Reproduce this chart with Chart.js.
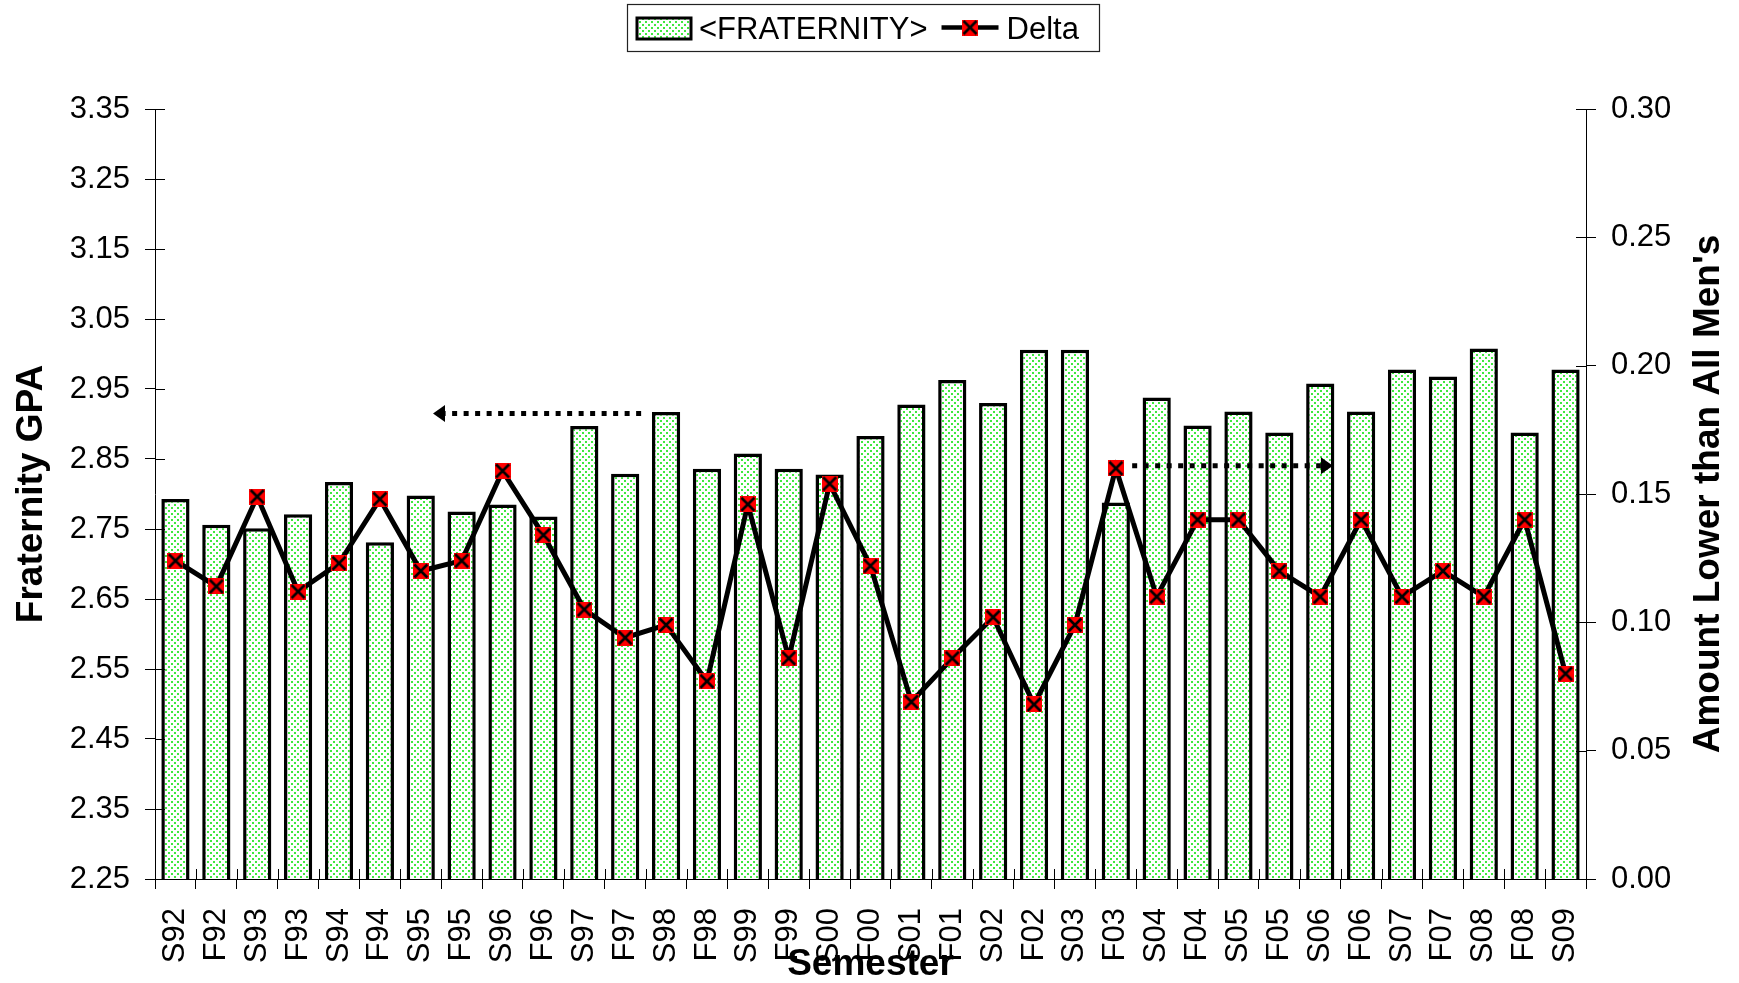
<!DOCTYPE html>
<html>
<head>
<meta charset="utf-8">
<script src="https://cdn.jsdelivr.net/npm/chart.js@4.4.1/dist/chart.umd.min.js"></script>
<style>
html,body{margin:0;padding:0;background:#ffffff;}
#wrap{width:1739px;height:983px;position:relative;}
</style>
</head>
<body>
<div id="wrap"><canvas id="c"></canvas></div>
<script>
// ---------- data ----------
const semesters = ['S92','F92','S93','F93','S94','F94','S95','F95','S96','F96',
  'S97','F97','S98','F98','S99','F99','S00','F00','S01','F01',
  'S02','F02','S03','F03','S04','F04','S05','F05','S06','F06',
  'S07','F07','S08','F08','S09'];
const fraternityGPA = [2.793,2.756,2.751,2.771,2.817,2.731,2.798,2.775,2.785,2.768,
  2.897,2.829,2.917,2.836,2.858,2.836,2.828,2.883,2.928,2.963,
  2.930,3.006,3.006,2.788,2.938,2.898,2.918,2.888,2.958,2.918,
  2.978,2.968,3.008,2.888,2.978];
const deltaValues = [0.124,0.114,0.149,0.112,0.123,0.148,0.120,0.124,0.159,0.134,
  0.105,0.094,0.099,0.077,0.146,0.086,0.154,0.122,0.069,0.086,
  0.102,0.068,0.099,0.160,0.110,0.140,0.140,0.120,0.110,0.140,
  0.110,0.120,0.110,0.140,0.080];
const seriesLabels = ['<FRATERNITY>', 'Delta'];
const leftAxisTitle = 'Fraternity GPA';
const rightAxisTitle = "Amount Lower than All Men's";
const xAxisTitle = 'Semester';
const leftAxisRange = [2.25, 3.35, 0.1];
const rightAxisRange = [0, 0.30, 0.05];
// annotation arrows: value on axis, from category index, to category index (tip)
const leftArrow = {value: 2.915, from: 11.39, to: 6.30};
const rightArrow = {value: 0.161, from: 23.40, to: 28.31};

// ---------- styling helpers ----------
const FONT = "'Liberation Sans', Arial, Helvetica, sans-serif";
const canvas = document.getElementById('c');
const ctx0 = canvas.getContext('2d');

function makePattern(){
  const t = document.createElement('canvas'); t.width = 6; t.height = 6;
  const g = t.getContext('2d');
  g.fillStyle = '#ffffff'; g.fillRect(0,0,6,6);
  g.fillStyle = '#3fe83f';
  g.fillRect(0,0,2,2); g.fillRect(3,3,2,2);
  return ctx0.createPattern(t, 'repeat');
}
function makeMarker(size){
  const c = document.createElement('canvas'); c.width = size; c.height = size;
  const g = c.getContext('2d');
  g.fillStyle = '#ff0000'; g.fillRect(0,0,size,size);
  g.strokeStyle = '#000000'; g.lineWidth = 2.6;
  g.beginPath();
  g.moveTo(1.5,1.5); g.lineTo(size-1.5,size-1.5);
  g.moveTo(size-1.5,1.5); g.lineTo(1.5,size-1.5);
  g.stroke();
  return c;
}
const barPattern = makePattern();
const marker = makeMarker(16);

// ---------- plugins ----------
const innerTicks = {
  id: 'innerTicks',
  afterDraw(chart){
    const ctx = chart.ctx;
    const {x, y, y1} = chart.scales;
    const ca = chart.chartArea;
    ctx.save();
    ctx.strokeStyle = '#000'; ctx.lineWidth = 1;
    ctx.beginPath();
    for (let i = 0; i <= semesters.length; i++){
      const px = Math.round(x.getPixelForValue(i - 0.5)) + 0.5;
      ctx.moveTo(px, ca.bottom); ctx.lineTo(px, ca.bottom - 10);
    }
    y.ticks.forEach((t, i) => {
      const py = Math.round(y.getPixelForTick(i)) + 0.5;
      ctx.moveTo(ca.left, py); ctx.lineTo(ca.left + 10, py);
    });
    y1.ticks.forEach((t, i) => {
      const py = Math.round(y1.getPixelForTick(i)) + 0.5;
      ctx.moveTo(ca.right, py); ctx.lineTo(ca.right - 10, py);
    });
    ctx.stroke();
    ctx.restore();
  }
};

function drawArrow(ctx, x1, x2, yy){
  const dir = Math.sign(x2 - x1);
  const head = 12;
  ctx.save();
  ctx.strokeStyle = '#000'; ctx.lineWidth = 5;
  ctx.setLineDash([5, 6.5]);
  ctx.beginPath(); ctx.moveTo(x1, yy); ctx.lineTo(x2 - dir*head, yy); ctx.stroke();
  ctx.setLineDash([]);
  ctx.fillStyle = '#000';
  ctx.beginPath();
  ctx.moveTo(x2, yy);
  ctx.lineTo(x2 - dir*head, yy - 8.5);
  ctx.lineTo(x2 - dir*head, yy + 8.5);
  ctx.closePath(); ctx.fill();
  ctx.restore();
}
const arrows = {
  id: 'arrows',
  afterDatasetsDraw(chart){
    const {x, y, y1} = chart.scales;
    drawArrow(chart.ctx, x.getPixelForValue(leftArrow.from), x.getPixelForValue(leftArrow.to), y.getPixelForValue(leftArrow.value));
    drawArrow(chart.ctx, x.getPixelForValue(rightArrow.from), x.getPixelForValue(rightArrow.to), y1.getPixelForValue(rightArrow.value));
  }
};

const customLegend = {
  id: 'customLegend',
  afterDraw(chart){
    const ctx = chart.ctx;
    const labels = chart.data.datasets.map(d => d.label);
    ctx.save();
    ctx.font = `31px ${FONT}`;
    ctx.textBaseline = 'middle';
    ctx.fillStyle = '#000';
    const left = 627, top = 4, h = 47, cy = 30;
    let cx = 637;
    // bar sample
    ctx.fillStyle = barPattern; ctx.fillRect(cx, 18, 54, 21);
    ctx.strokeStyle = '#000'; ctx.lineWidth = 3; ctx.strokeRect(cx, 18, 54, 21);
    cx += 54 + 8;
    ctx.fillStyle = '#000';
    ctx.fillText(labels[0], cx, cy);
    cx += ctx.measureText(labels[0]).width + 14;
    // line sample
    ctx.lineWidth = 4.5; ctx.beginPath(); ctx.moveTo(cx, 27.5); ctx.lineTo(cx + 57, 27.5); ctx.stroke();
    ctx.drawImage(marker, cx + 28.5 - marker.width/2, 27.5 - marker.height/2);
    cx += 57 + 8;
    ctx.fillText(labels[1], cx, cy);
    cx += ctx.measureText(labels[1]).width + 12;
    ctx.lineWidth = 1.2; ctx.strokeStyle = '#222';
    ctx.strokeRect(left + 0.5, top + 0.5, Math.max(cx - left, 472), h);
    ctx.restore();
  }
};

const rightTitle = {
  id: 'rightTitle',
  afterDraw(chart){
    const ctx = chart.ctx;
    const ca = chart.chartArea;
    ctx.save();
    ctx.translate(1709, (ca.top + ca.bottom)/2);
    ctx.rotate(-Math.PI/2);
    ctx.font = `bold 37px ${FONT}`;
    ctx.textAlign = 'center'; ctx.textBaseline = 'middle';
    ctx.fillStyle = '#000';
    ctx.fillText(rightAxisTitle, 0, 0);
    ctx.restore();
  }
};

// ---------- chart ----------
const tickFont = {family: FONT, size: 31};
const titleFont = {family: FONT, size: 37, weight: 'bold', lineHeight: 1};

new Chart(canvas, {
  type: 'bar',
  data: {
    labels: semesters,
    datasets: [
      {
        type: 'bar', label: seriesLabels[0], data: fraternityGPA, yAxisID: 'y',
        backgroundColor: barPattern, borderColor: '#000', borderWidth: 3.5,
        barPercentage: 0.69, categoryPercentage: 1.0, order: 1
      },
      {
        type: 'line', label: seriesLabels[1], data: deltaValues, yAxisID: 'y1',
        borderColor: '#000', borderWidth: 5, tension: 0, fill: false,
        pointStyle: marker, pointRadius: 8, pointHoverRadius: 8, order: 0
      }
    ]
  },
  options: {
    responsive: true, maintainAspectRatio: false, animation: false,
    layout: {padding: {top: 109, left: 0, right: 0, bottom: 0}},
    plugins: {legend: {display: false}, tooltip: {enabled: false}, title: {display: false}},
    scales: {
      x: {
        type: 'category', offset: true,
        grid: {display: true, offset: true, drawOnChartArea: false, drawTicks: true, tickLength: 10, color: '#000', lineWidth: 1},
        border: {display: true, color: '#000', width: 1},
        ticks: {autoSkip: false, minRotation: 90, maxRotation: 90, padding: 19, color: '#000', font: tickFont},
        title: {display: true, text: xAxisTitle, color: '#000', font: titleFont, padding: {top: 0, bottom: 0}},
        afterFit(s){ s.height = 104; }
      },
      y: {
        type: 'linear', position: 'left',
        min: leftAxisRange[0], max: leftAxisRange[1],
        grid: {drawOnChartArea: false, drawTicks: true, tickLength: 10, color: '#000', lineWidth: 1},
        border: {display: true, color: '#000', width: 1},
        ticks: {stepSize: leftAxisRange[2], padding: 15, color: '#000', font: tickFont, callback: v => Number(v).toFixed(2)},
        title: {display: true, text: leftAxisTitle, color: '#000', font: titleFont, padding: {top: 13, bottom: 0}},
        afterFit(s){ s.width = 155; }
      },
      y1: {
        type: 'linear', position: 'right',
        min: rightAxisRange[0], max: rightAxisRange[1],
        grid: {drawOnChartArea: false, drawTicks: true, tickLength: 10, color: '#000', lineWidth: 1},
        border: {display: true, color: '#000', width: 1},
        ticks: {stepSize: rightAxisRange[2], padding: 15, color: '#000', font: tickFont, callback: v => Number(v).toFixed(2)},
        afterFit(s){ s.width = 153; }
      }
    }
  },
  plugins: [innerTicks, arrows, customLegend, rightTitle]
});
</script>
</body>
</html>
